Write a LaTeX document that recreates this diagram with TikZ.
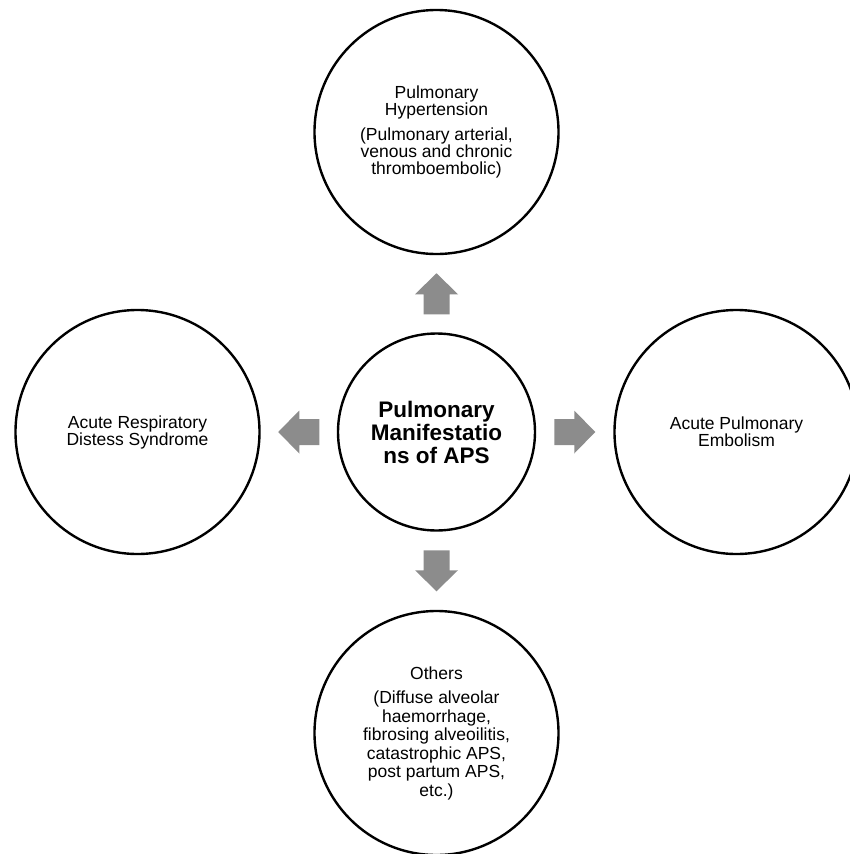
\documentclass[tikz,border=0pt]{standalone}
\usepackage{fontspec}
\setmainfont{Liberation Sans}
\usetikzlibrary{calc}
\definecolor{arrowgray}{RGB}{140,140,140}
\begin{document}
\begin{tikzpicture}[x=1pt,y=-1pt,
  bubble/.style={circle,draw=black,line width=2.4pt,inner sep=0pt,minimum size=244pt,align=center,font=\fontsize{17.5}{17}\selectfont},
  hub/.style={circle,draw=black,line width=2.4pt,inner sep=0pt,minimum size=197pt,align=center,font=\bfseries\fontsize{22.5}{23}\selectfont},
  blockarrow/.pic={\fill[arrowgray] (-20.5,-13) -- (-0.5,-13) -- (-0.5,-21.5) -- (20.5,0) -- (-0.5,21.5) -- (-0.5,13) -- (-20.5,13) -- cycle;}]
\useasboundingbox (0,0) rectangle (849,854);
\node[hub] (hub) at (436.5,432) {Pulmonary\\Manifestatio\\ns of APS};
\node[bubble] (top) at (436.5,132) {Pulmonary\\Hypertension\\[8pt](Pulmonary arterial,\\venous and chronic\\thromboembolic)};
\node[bubble] (left) at (137.5,432) {Acute Respiratory\\Distess Syndrome};
\node[bubble] (right) at (736.5,432) {Acute Pulmonary\\Embolism};
\node[bubble,font=\fontsize{17.5}{18.5}\selectfont] (bottom) at (436.5,733) {Others\\[6pt](Diffuse alveolar\\haemorrhage,\\fibrosing alveoilitis,\\catastrophic APS,\\post partum APS,\\etc.)};
\pic[rotate=90] at ($(hub.north)!0.5!(top.south)$) {blockarrow};
\pic[rotate=-90] at ($(hub.south)!0.5!(bottom.north)$) {blockarrow};
\pic[rotate=180] at ($(hub.west)!0.5!(left.east)$) {blockarrow};
\pic at ($(hub.east)!0.5!(right.west)$) {blockarrow};
\end{tikzpicture}
\end{document}
